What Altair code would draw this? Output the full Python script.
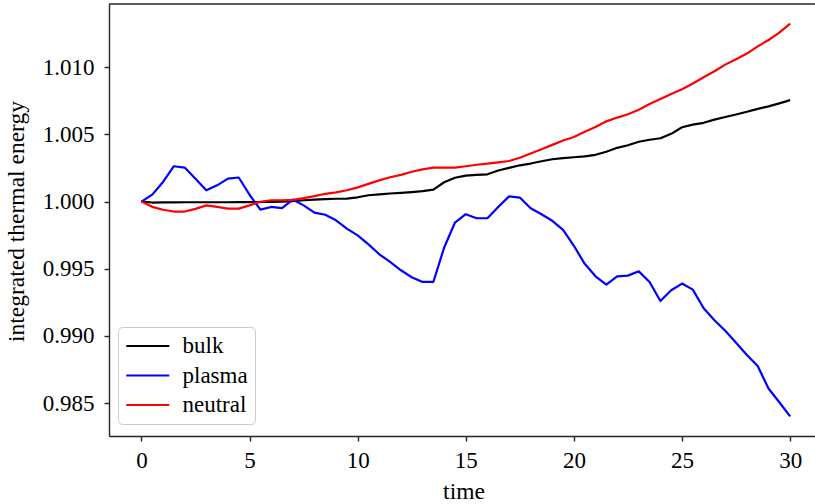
import altair as alt
import pandas as pd

# Sampling times of the simulation output
time = [i * 0.5 for i in range(61)]

# Integrated thermal energy, normalised to the initial value
bulk = [
    1.00000, 0.99993, 0.99994, 0.99994, 0.99995, 0.99995, 0.99995, 0.99995, 0.99995, 0.99996,
    0.99996, 0.99997, 0.99998, 0.99999, 1.00003, 1.00010, 1.00015, 1.00019, 1.00021, 1.00022,
    1.00032, 1.00047, 1.00053, 1.00060, 1.00065, 1.00071, 1.00078, 1.00089, 1.00144, 1.00177,
    1.00193, 1.00199, 1.00203, 1.00231, 1.00251, 1.00270, 1.00283, 1.00300, 1.00315, 1.00324,
    1.00330, 1.00336, 1.00348, 1.00371, 1.00400, 1.00419, 1.00445, 1.00460, 1.00471, 1.00504,
    1.00553, 1.00573, 1.00586, 1.00610, 1.00629, 1.00648, 1.00668, 1.00690, 1.00708, 1.00731,
    1.00755,
]
plasma = [
    1.00000, 1.00052, 1.00146, 1.00263, 1.00253, 1.00170, 1.00084, 1.00121, 1.00171, 1.00179,
    1.00051, 0.99940, 0.99960, 0.99952, 1.00015, 0.99972, 0.99918, 0.99902, 0.99861, 0.99799,
    0.99749, 0.99682, 0.99608, 0.99551, 0.99489, 0.99437, 0.99402, 0.99402, 0.99658, 0.99844,
    0.99906, 0.99876, 0.99876, 0.99960, 1.00039, 1.00030, 0.99950, 0.99906, 0.99857, 0.99790,
    0.99671, 0.99537, 0.99444, 0.99382, 0.99444, 0.99449, 0.99481, 0.99402, 0.99260, 0.99340,
    0.99390, 0.99345, 0.99206, 0.99117, 0.99039, 0.98949, 0.98858, 0.98777, 0.98609, 0.98507,
    0.98402,
]
neutral = [
    1.00000, 0.99961, 0.99939, 0.99926, 0.99926, 0.99946, 0.99972, 0.99961, 0.99948, 0.99948,
    0.99972, 0.99999, 1.00010, 1.00010, 1.00013, 1.00026, 1.00041, 1.00058, 1.00068, 1.00084,
    1.00106, 1.00132, 1.00158, 1.00181, 1.00199, 1.00222, 1.00240, 1.00253, 1.00253, 1.00253,
    1.00263, 1.00274, 1.00283, 1.00292, 1.00302, 1.00326, 1.00358, 1.00389, 1.00422, 1.00454,
    1.00481, 1.00519, 1.00555, 1.00597, 1.00625, 1.00650, 1.00683, 1.00726, 1.00764, 1.00800,
    1.00836, 1.00879, 1.00925, 1.00970, 1.01019, 1.01059, 1.01101, 1.01155, 1.01202, 1.01257,
    1.01324,
]

series_names = ["bulk", "plasma", "neutral"]
series_colors = ["#000000", "#0000ff", "#ff0000"]
x_ticks = [0, 5, 10, 15, 20, 25, 30]
y_ticks = [0.985, 0.990, 0.995, 1.000, 1.005, 1.010]

frames = []
for order, (name, vals) in enumerate(zip(series_names, [bulk, plasma, neutral])):
    frames.append(pd.DataFrame({"time": time, "energy": vals, "series": name, "order": order}))
df = pd.concat(frames, ignore_index=True)

FONT = "Liberation Serif"
SPINE = "#262626"
W, H = 706, 432

lines = alt.Chart(df).mark_line(strokeWidth=2.2, strokeJoin="round").encode(
    x=alt.X(
        "time:Q",
        scale=alt.Scale(domain=[-1.5, 31.15], nice=False, zero=False),
        axis=alt.Axis(
            values=x_ticks, format="d", title="time",
            titleX=354.5, titleY=62, titleBaseline="alphabetic", titleAlign="center",
        ),
    ),
    y=alt.Y(
        "energy:Q",
        scale=alt.Scale(domain=[0.98256, 1.0147], nice=False, zero=False),
        axis=alt.Axis(
            values=y_ticks, format=".3f", title="integrated thermal energy",
            titleX=-86, titleY=217, titleAngle=270, titleBaseline="alphabetic", titleAlign="center",
        ),
    ),
    color=alt.Color(
        "series:N",
        scale=alt.Scale(domain=series_names, range=series_colors),
        legend=alt.Legend(
            title=None, orient="none", legendX=9, legendY=323,
            # a long horizontal stroke starting at the entry's left edge,
            # so the entry height follows the label
            symbolType="M-1,0H3", symbolSize=462.25, symbolStrokeWidth=2.2,
            symbolFillColor="transparent",
            labelFont=FONT, labelFontSize=23, labelColor="#000000", labelOffset=33.5,
            labelExpr="datum.label + '\u2002'",
            rowPadding=5.5, padding=7, fillColor="rgba(255,255,255,0.8)",
            strokeColor="#cccccc", cornerRadius=4,
        ),
    ),
    order=alt.Order("order:Q"),
    detail="series:N",
)

# Upper frame edge of the plot area
top_spine = alt.Chart(pd.DataFrame({"k": [0]})).mark_rule(
    color=SPINE, strokeWidth=1.4
).encode(x=alt.value(0), x2=alt.value(W), y=alt.value(0))

chart = alt.layer(lines, top_spine).properties(
    width=W, height=H,
    autosize=alt.AutoSizeParams(type="none"),
    padding={"left": 109, "top": 4, "right": 0, "bottom": 68},
).configure_view(stroke="transparent", strokeWidth=0).configure_axis(
    grid=False,
    domainColor=SPINE, domainWidth=1.4,
    tickColor=SPINE, tickWidth=1.4, tickSize=5,
    labelFont=FONT, labelFontSize=23, labelColor="#000000",
    titleFont=FONT, titleFontSize=23.5, titleColor="#000000", titleFontWeight="normal",
).configure_axisX(
    labelPadding=26, labelBaseline="alphabetic",
).configure_axisY(
    labelPadding=10,
)

chart.save("out.html", embed_options={"renderer": "svg", "actions": False})
